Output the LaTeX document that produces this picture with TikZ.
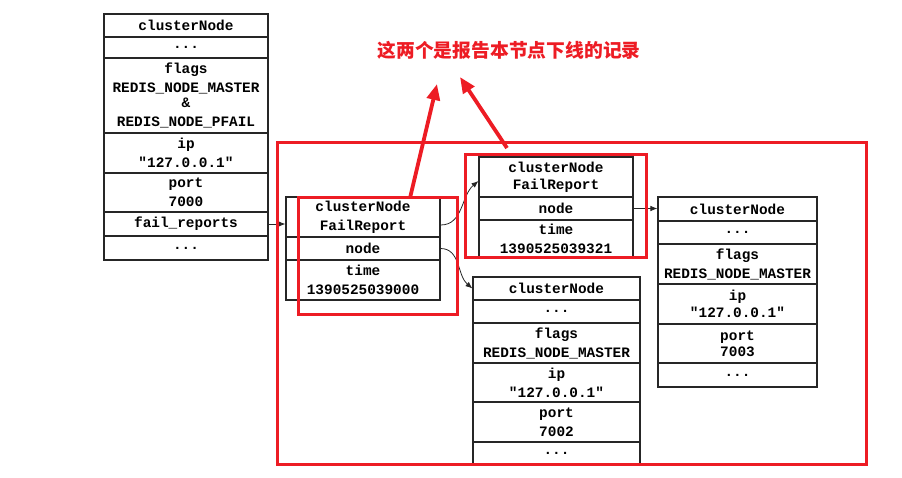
\documentclass[tikz,border=0pt]{standalone}
\usepackage{fontspec}
\setmonofont{Liberation Mono}
\newfontfamily\cjk{Noto Sans CJK SC}
\usetikzlibrary{arrows.meta}
\definecolor{notered}{RGB}{237,28,36}
\begin{document}
\begin{tikzpicture}[x=1pt, y=1pt,
    field/.style={draw=black!85, line width=1.1pt, inner sep=0pt, align=center,
        font=\ttfamily\bfseries\fontsize{14.4}{19}\selectfont},
    link/.style={-{Latex[length=7pt,width=5.5pt]}, line width=0.8pt, black!85},
    hint/.style={draw=notered, line width=3pt},
    pointer/.style={-{Triangle[length=16pt,width=13pt]}, line width=3.8pt, notered}]
    \useasboundingbox (0,0) rectangle (902,-477);

    % Left clusterNode (7000)
    \node[field, minimum width=164pt, minimum height=23pt] (b1name) at (186,-25.5) {clusterNode};
    \node[field, minimum width=164pt, minimum height=21pt] (b1dots) at (186,-47.5) {...};
    \node[field, minimum width=164pt, minimum height=75pt] (b1flags) at (186,-95.5)
        {flags\\REDIS\_NODE\_MASTER\\[-4pt]\&\\REDIS\_NODE\_PFAIL};
    \node[field, minimum width=164pt, minimum height=40pt] (b1ip) at (186,-153) {ip\\"127.0.0.1"};
    \node[field, minimum width=164pt, minimum height=39pt] (b1port) at (186,-192.5) {port\\7000};
    \node[field, minimum width=164pt, minimum height=24pt] (b1fail) at (186,-224) {fail\_reports};
    \node[field, minimum width=164pt, minimum height=24pt] (b1more) at (186,-248) {...};

    % First fail report
    \node[field, minimum width=154pt, minimum height=40pt] (fr1head) at (363,-217) {clusterNode\\FailReport};
    \node[field, minimum width=154pt, minimum height=23pt] (fr1node) at (363,-248.5) {node};
    \node[field, minimum width=154pt, minimum height=40pt] (fr1time) at (363,-280) {time\\1390525039000};

    % Second fail report
    \node[field, minimum width=154pt, minimum height=40pt] (fr2head) at (556,-177) {clusterNode\\[-2pt]FailReport};
    \node[field, minimum width=154pt, minimum height=23pt] (fr2node) at (556,-208.5) {node};
    \node[field, minimum width=154pt, minimum height=38pt] (fr2time) at (556,-239) {time\\1390525039321};

    % clusterNode 7002
    \node[field, minimum width=167pt, minimum height=23pt] (n2name) at (556.5,-288.5) {clusterNode};
    \node[field, minimum width=167pt, minimum height=23pt] (n2dots) at (556.5,-311.5) {...};
    \node[field, minimum width=167pt, minimum height=40pt] (n2flags) at (556.5,-343) {flags\\REDIS\_NODE\_MASTER};
    \node[field, minimum width=167pt, minimum height=39pt] (n2ip) at (556.5,-382.5) {ip\\"127.0.0.1"};
    \node[field, minimum width=167pt, minimum height=40pt] (n2port) at (556.5,-422) {port\\7002};
    \node[field, minimum width=167pt, minimum height=23pt] (n2more) at (556.5,-453.5) {...};

    % clusterNode 7003
    \node[field, minimum width=159pt, minimum height=24pt] (n3name) at (737.5,-209) {clusterNode};
    \node[field, minimum width=159pt, minimum height=23pt] (n3dots) at (737.5,-232.5) {...};
    \node[field, minimum width=159pt, minimum height=40pt] (n3flags) at (737.5,-264) {flags\\REDIS\_NODE\_MASTER};
    \node[field, minimum width=159pt, minimum height=40pt] (n3ip) at (737.5,-304) {ip\\[-2pt]"127.0.0.1"};
    \node[field, minimum width=159pt, minimum height=39pt] (n3port) at (737.5,-343.5) {port\\[-3pt]7003};
    \node[field, minimum width=159pt, minimum height=24pt] (n3more) at (737.5,-375) {...};

    % Pointers between structures
    \draw[link] (b1fail.east) -- (b1fail.east -| fr1head.west);
    \draw[link] ([yshift=-8pt]fr1head.east) to[out=0, in=220] ([yshift=-4pt]fr2head.west);
    \draw[link] (fr1node.east) to[out=0, in=140] (n2name.west);
    \draw[link] (fr2node.east) -- (fr2node.east -| n3name.west);

    % Red annotation
    \draw[hint] (277,-142) rectangle (866,-464);
    \node[hint, minimum width=159pt, minimum height=117pt] (sel1) at (377.5,-255.5) {};
    \node[hint, minimum width=181pt, minimum height=103pt] (sel2) at (555.5,-205.5) {};
    \node[text=notered, font=\cjk\bfseries\fontsize{18.8}{20}\selectfont] (note) at (509,-50)
        {这两个是报告本节点下线的记录};
    \coordinate (tail1) at (410,-198);
    \coordinate (tail2) at (507,-148);
    \coordinate (tip1) at (437,-84);
    \coordinate (tip2) at (460,-77);
    \draw[pointer] (tail1) -- (tip1);
    \draw[pointer] (tail2) -- (tip2);
\end{tikzpicture}
\end{document}
